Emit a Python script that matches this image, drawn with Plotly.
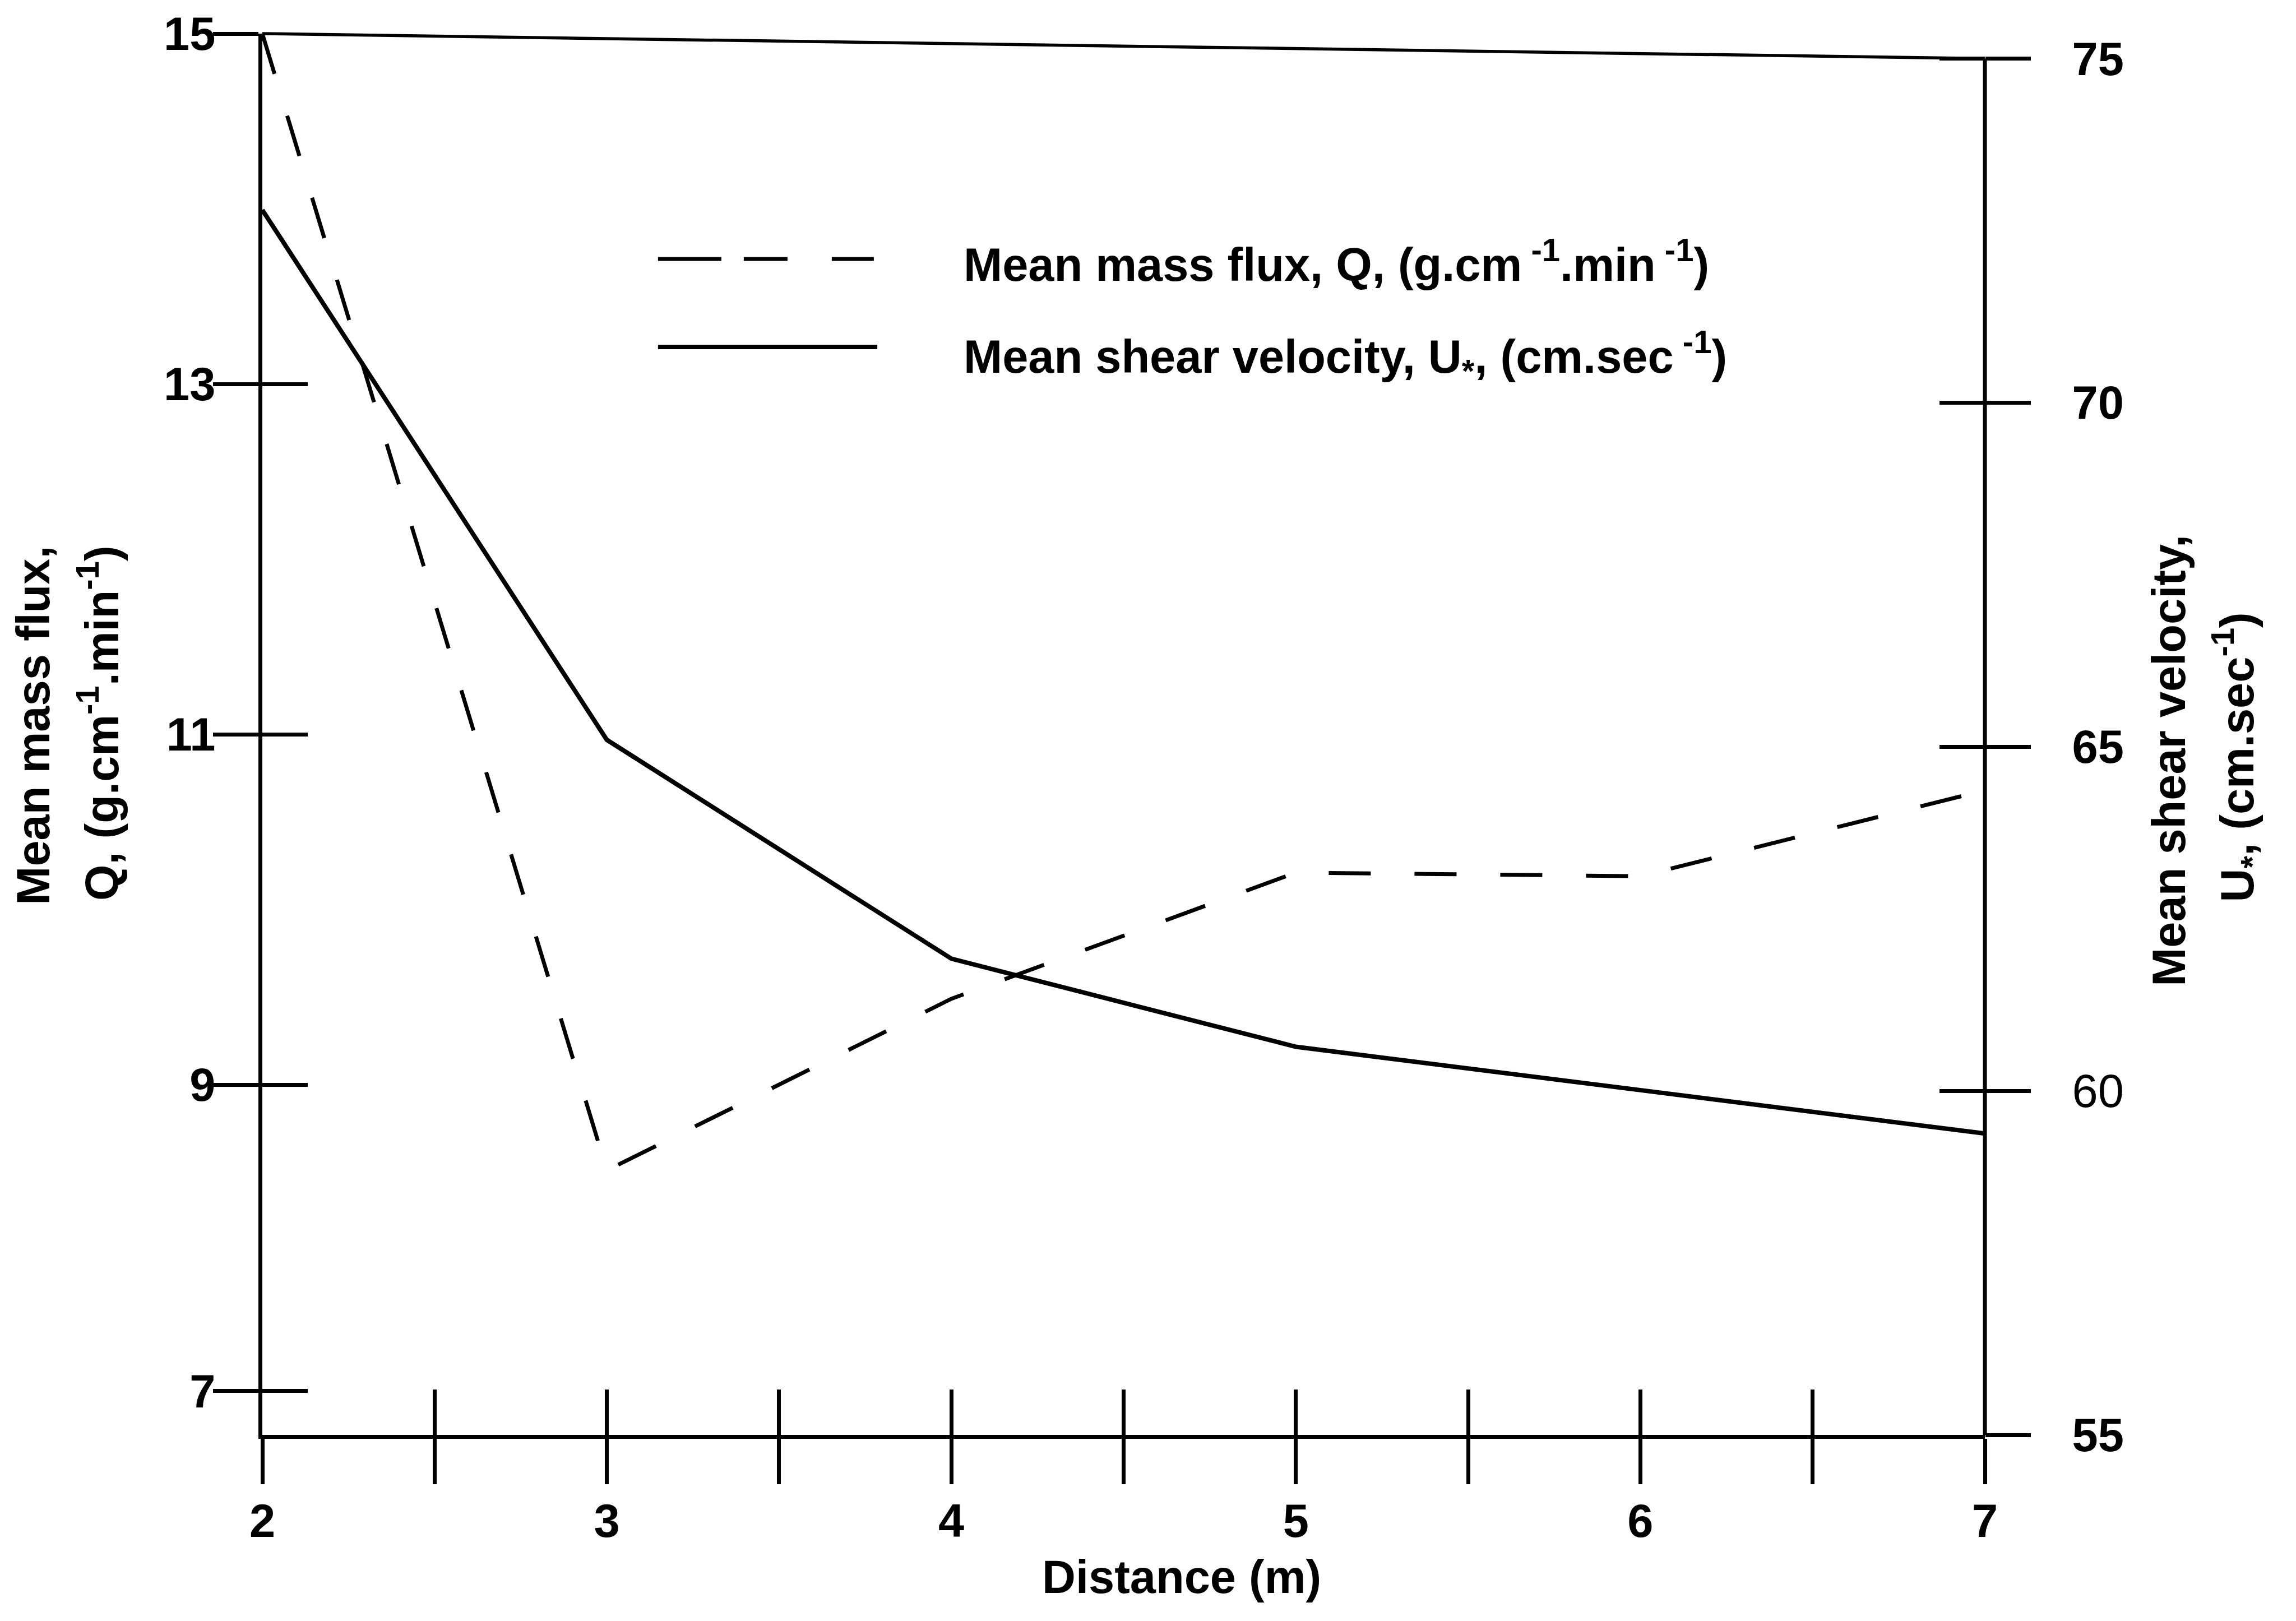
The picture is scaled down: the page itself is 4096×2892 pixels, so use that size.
import plotly.graph_objects as go

# Distance downwind (m) and the two measured profiles
DISTANCE = [2, 3, 4, 5, 6, 7]
MASS_FLUX = [15.0, 8.51, 9.49, 10.21, 10.19, 10.68]        # Q, g.cm-1.min-1 (left axis)
SHEAR_VELOCITY = [72.8, 65.1, 61.92, 60.64, 60.01, 59.38]  # U*, cm.sec-1 (right axis)

X_TICKS = [2, 3, 4, 5, 6, 7]
X_TICK_TEXT = ["2", "3", "4", "5", "6", "7"]
X_MINOR_STEP = 0.5
Q_TICK_TEXT = ["15", "13", "11", "9", "7"]
Q_TICK_VALS = [15, 13, 11, 9, 7.25]   # lowest tick is drawn just above the baseline
U_TICKS = [75, 70, 65, 60, 55]
U_TICK_TEXT = ["<b>75</b>", "<b>70</b>", "<b>65</b>", "60", "<b>55</b>"]

W, H = 4096, 2892
L, R, T, B = 468, 555, 60, 332
PLOT_H = H - T - B
Q_RANGE = [7, 15]
# right axis: 55 at the baseline, 75 sits a little below the top of the frame
U_PX_PER_UNIT = (PLOT_H - 44.5) / 20.0
U_RANGE = [55, 75 + 44.5 / U_PX_PER_UNIT]
U_TOP_PAPER = (75 - U_RANGE[0]) / (U_RANGE[1] - U_RANGE[0])

FONT = "Liberation Sans, Arial, Helvetica, sans-serif"
FS = 83
TICKLEN = 81
LW = 7

fig = go.Figure()
fig.add_trace(go.Scatter(
    x=DISTANCE, y=MASS_FLUX, mode="lines", xaxis="x", yaxis="y",
    line=dict(color="black", width=7, dash="75px,78px"), showlegend=False,
    hoverinfo="skip",
))
fig.add_trace(go.Scatter(
    x=DISTANCE, y=SHEAR_VELOCITY, mode="lines", xaxis="x", yaxis="y2",
    line=dict(color="black", width=8), showlegend=False, hoverinfo="skip",
))
# empty traces so the overlaid tick-only axes get drawn
for ya in ("y3", "y4"):
    fig.add_trace(go.Scatter(x=[], y=[], xaxis="x2", yaxis=ya,
                             showlegend=False, hoverinfo="skip"))

tick_common = dict(tickcolor="black", tickwidth=LW, ticklen=TICKLEN,
                   showgrid=False, zeroline=False)
minor_x = dict(tick0=2, dtick=X_MINOR_STEP, tickcolor="black",
               tickwidth=LW, ticklen=TICKLEN, showgrid=False)
bold = dict(family=FONT, size=FS, color="black", weight="bold")

fig.update_layout(
    width=W, height=H,
    margin=dict(l=L, r=R, t=T, b=B, pad=0),
    paper_bgcolor="white", plot_bgcolor="white",
    xaxis=dict(range=[2, 7], domain=[0, 1], anchor="y", showline=True,
               linewidth=LW, linecolor="black", ticks="outside",
               tickvals=X_TICKS, ticktext=X_TICK_TEXT, tickfont=bold,
               minor=dict(ticks="outside", **minor_x),
               ticklabelstandoff=-6, **tick_common),
    xaxis2=dict(range=[2, 7], overlaying="x", anchor="y", side="bottom",
                ticks="inside", tickvals=X_TICKS, showticklabels=False,
                minor=dict(ticks="inside", **minor_x),
                showline=False, **tick_common),
    yaxis=dict(range=Q_RANGE, anchor="x", side="left", showline=True,
               linewidth=LW, linecolor="black", ticks="outside",
               tickvals=Q_TICK_VALS, ticktext=Q_TICK_TEXT, tickfont=bold,
               ticklabelstandoff=-21, **tick_common),
    yaxis3=dict(range=Q_RANGE, overlaying="y", anchor="x2", side="left",
                ticks="inside", tickvals=Q_TICK_VALS, showticklabels=False,
                showline=False, **tick_common),
    yaxis2=dict(range=U_RANGE, overlaying="y", anchor="x", side="right",
                showline=False, ticks="outside", tickvals=U_TICKS,
                ticktext=U_TICK_TEXT,
                tickfont=dict(family=FONT, size=FS, color="black"),
                ticklabelstandoff=57, **tick_common),
    yaxis4=dict(range=U_RANGE, overlaying="y", anchor="x2", side="right",
                ticks="inside", tickvals=U_TICKS, showticklabels=False,
                showline=False, **tick_common),
)

# right axis line (from 55 up to 75) and the sloping top edge of the frame
fig.add_shape(type="line", xref="paper", yref="y2", x0=1, x1=1, y0=55, y1=75,
              line=dict(color="black", width=LW))
fig.add_shape(type="line", xref="x", yref="paper", x0=2, x1=7,
              y0=1, y1=U_TOP_PAPER, line=dict(color="black", width=5.5))

# key
fig.add_shape(type="line", xref="paper", yref="paper", x0=0.2297, x1=0.3554,
              y0=0.8392, y1=0.8392,
              line=dict(color="black", width=7, dash="113px,40px,78px,79px,75px"))
fig.add_shape(type="line", xref="paper", yref="paper", x0=0.2297, x1=0.357,
              y0=0.7764, y1=0.7764, line=dict(color="black", width=8))

def label(text, x, y, xanchor="center", yanchor="middle", angle=0):
    fig.add_annotation(text=text, x=x, y=y, xref="paper", yref="paper",
                       xanchor=xanchor, yanchor=yanchor, textangle=angle,
                       showarrow=False, font=bold)

label("Mean mass flux, Q, (g.cm<sup> -1</sup>.min<sup> -1</sup>)", 0.4066, 0.8376, xanchor="left")
label("Mean shear velocity, U<sub>*</sub>, (cm.sec<sup> -1</sup>)", 0.4066, 0.770, xanchor="left")

# axis titles
label("Distance (m)", 0.5338, -0.1012)
label("Mean mass flux,", -0.1332, 0.5064, angle=-90)
label("Q, (g.cm<sup>-1</sup>.min<sup>-1</sup>)", -0.095, 0.508, angle=-90)
label("Mean shear velocity,", 1.107, 0.4812, angle=-90)
label("U<sub>*</sub>, (cm.sec<sup>-1</sup>)", 1.1464, 0.4838, angle=-90)

fig.write_html("out.html")
